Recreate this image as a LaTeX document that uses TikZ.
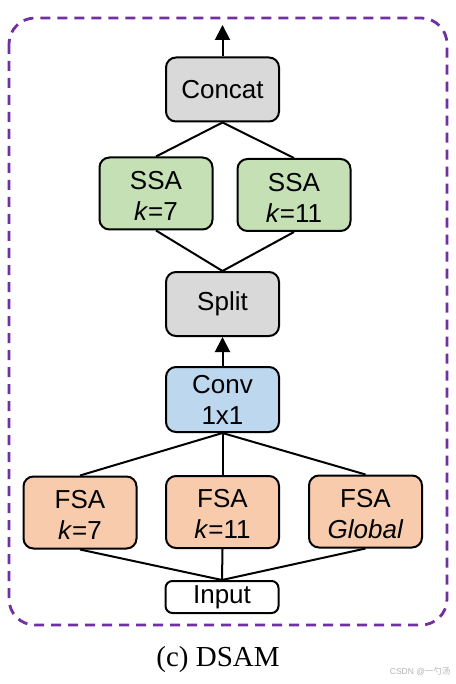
\documentclass[tikz,border=0pt]{standalone}
\usepackage{fontspec}
\setmainfont{Liberation Serif}
\newfontfamily\arialfont{Liberation Sans}
\newfontfamily\cjkfont{Noto Sans CJK SC}
\usetikzlibrary{arrows.meta}
\definecolor{dpurple}{HTML}{7030A0}
\definecolor{grayfill}{HTML}{D9D9D9}
\definecolor{greenfill}{HTML}{C5E0B4}
\definecolor{bluefill}{HTML}{BDD7EE}
\definecolor{orangefill}{HTML}{F8CBAD}
\begin{document}
\begin{tikzpicture}[x=1pt,y=-1pt,
  box/.style={draw=black, line width=2pt, rounded corners=10pt, minimum width=113pt, inner sep=0pt,
    align=center, font=\arialfont\fontsize{26}{31}\selectfont},
  onebox/.style={box, minimum height=64pt},
  twobox/.style={box, minimum height=72pt, text height=53pt, text depth=0pt},
  conn/.style={line width=2pt},
  arr/.style={line width=2pt, -{Triangle[width=15pt,length=15pt]}}
]
\useasboundingbox (0,0) rectangle (455,684);
\draw[dpurple, line width=2.8pt, dash pattern=on 10pt off 7pt, rounded corners=26pt] (9,18) rectangle (447,625);

\node[onebox, fill=grayfill] (concat) at (222.5,89.5) {Concat};
\node[twobox, text height=55pt, fill=greenfill] (ssa1) at (156,193.5) {SSA\\\textit{k}=7};
\node[twobox, text height=55pt, fill=greenfill] (ssa2) at (294,195) {SSA\\\textit{k}=11};
\node[onebox, fill=grayfill] (split) at (222.5,304) {Split};
\node[box, minimum height=65pt, fill=bluefill] (conv) at (222.5,399.5) {Conv\\1x1};
\node[twobox, fill=orangefill] (fsa1) at (80,512.5) {FSA\\\textit{k}=7};
\node[twobox, fill=orangefill] (fsa2) at (222.5,512) {FSA\\\textit{k}=11};
\node[twobox, fill=orangefill] (fsa3) at (365.5,511.5) {FSA\\\textit{Global}};
\node[box, minimum height=32pt, rounded corners=7pt, fill=white] (input) at (222,597) {Input};
\coordinate (out) at (222.5,25);

\node[font=\fontsize{29}{34}\selectfont] (cap) at (218,660) {(c) DSAM};
\node[font=\arialfont\fontsize{8.5}{10}\selectfont, text=black!30, anchor=east] (wm) at (454,672) {CSDN @\cjkfont 一勺汤};

\draw[arr] (concat.north) -- (out);
\draw[conn] (concat.south) -- (ssa1.north);
\draw[conn] (concat.south) -- (ssa2.north);
\draw[conn] (ssa1.south) -- (split.north);
\draw[conn] (ssa2.south) -- (split.north);
\draw[arr] (conv.north) -- (split.south);
\draw[conn] (conv.south) -- (fsa1.north);
\draw[conn] (conv.south) -- (fsa2.north);
\draw[conn] (conv.south) -- (fsa3.north);
\draw[conn] (fsa1.south) -- (input.north);
\draw[conn] (fsa2.south) -- (input.north);
\draw[conn] (fsa3.south) -- (input.north);
\end{tikzpicture}
\end{document}
